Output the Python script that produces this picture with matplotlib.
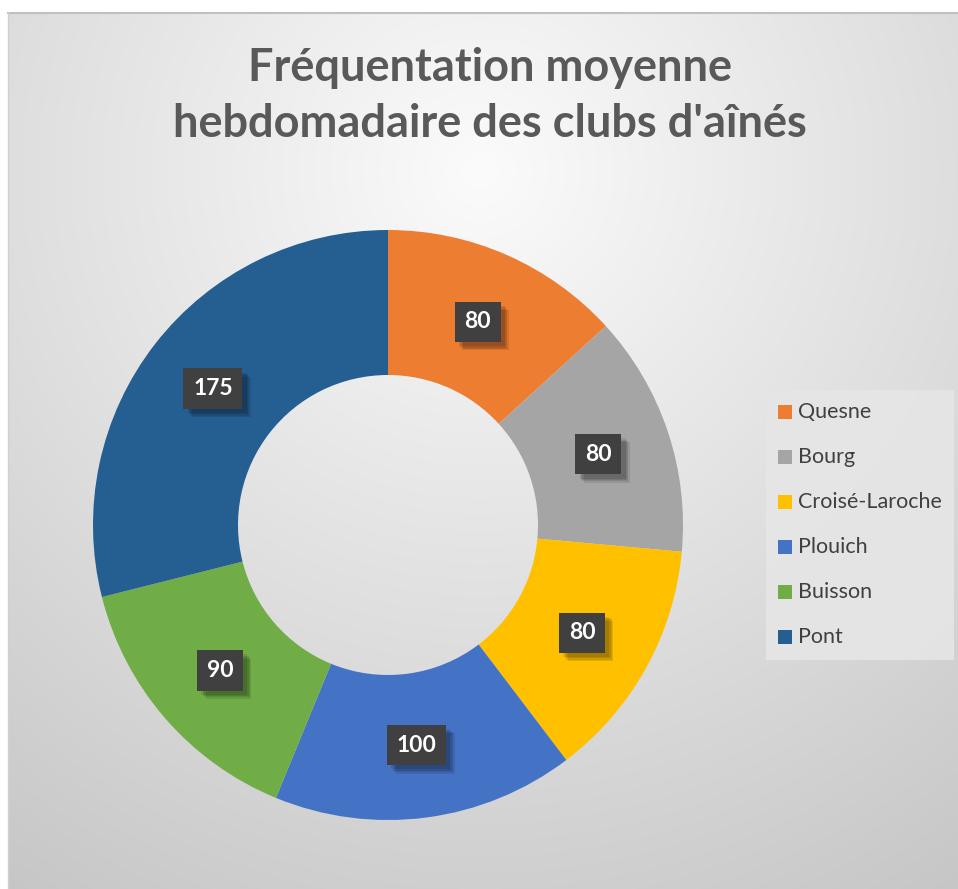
import numpy as np
import matplotlib
matplotlib.use("Agg")
import matplotlib.pyplot as plt
from matplotlib.patches import Rectangle
import matplotlib.patheffects as pe

categories = ["Quesne", "Bourg", "Croisé-Laroche", "Plouich", "Buisson", "Pont"]
values = [80, 80, 80, 100, 90, 175]
colors = ["#ED7D31", "#A5A5A5", "#FFC000", "#4472C4", "#70AD47", "#255E91"]
title = "Fréquentation moyenne\nhebdomadaire des clubs d'aînés"

plt.rcParams['font.family'] = ['Lato', 'DejaVu Sans']

W, H = 958, 889
fig = plt.figure(figsize=(W/100, H/100), dpi=100)
fig.patch.set_facecolor("white")

# background gradient panel
bg = fig.add_axes([8/W, 0, (W-8)/W, (H-13)/H])
bg.set_axis_off()
yy, xx = np.mgrid[13:H, 8:W]
d = np.hypot(xx - 480, (yy - 170) * 1.0)
val = 0.985 - 0.205 * np.clip(d / 850, 0, 1)
img = np.dstack([val, val, val])
bg.imshow(img, aspect='auto', extent=[0, 1, 0, 1], interpolation='bilinear')
bg.set_xlim(0, 1); bg.set_ylim(0, 1)
bg.plot([0, 1], [1, 1], color="#c0c0c0", lw=1.5, transform=bg.transAxes, clip_on=False)
bg.plot([0, 0], [0, 1], color="#d0d0d0", lw=1.0, transform=bg.transAxes, clip_on=False)

# title
fig.text(490/W, 1 - 96/H, title, ha='center', va='center', fontsize=32.5,
         fontweight='bold', color="#595959", linespacing=1.42)

# donut
cx, cy, R = 388, 525, 295
ax = fig.add_axes([(cx-R)/W, (H-cy-R)/H, 2*R/W, 2*R/H])
ax.set_axis_off()
wedges, _ = ax.pie(values, colors=colors, startangle=90, counterclock=False,
                   radius=1, wedgeprops=dict(width=145/295, edgecolor='none', linewidth=0))
ax.set_xlim(-1, 1); ax.set_ylim(-1, 1)
ax.set_aspect('equal')

total = sum(values)
cum = 0
rmid = 222 / 295
shadow = [pe.SimplePatchShadow(offset=(o, -o), shadow_rgbFace='black', alpha=0.10)
          for o in (6, 5, 4, 3)]
for v in values:
    mid = (cum + v / 2) / total * 2 * np.pi
    cum += v
    x = rmid * np.sin(mid)
    y = rmid * np.cos(mid)
    t = ax.text(x, y, str(v), ha='center', va='center', fontsize=16.5, fontweight='bold',
                color='white',
                bbox=dict(boxstyle='square,pad=0.42', facecolor='#404040', edgecolor='none'))
    t.get_bbox_patch().set_path_effects(shadow + [pe.Normal()])

# legend box
lx0, ly0, lx1, ly1 = 766, 390, 954, 660
fig.patches.append(Rectangle((lx0/W, 1 - ly1/H), (lx1-lx0)/W, (ly1-ly0)/H,
                             transform=fig.transFigure, facecolor="#e6e6e6",
                             edgecolor='none', alpha=0.9, zorder=1))
for i, (c, col) in enumerate(zip(categories, colors)):
    yc = 412 + 45 * i
    fig.patches.append(Rectangle((778/W, 1 - (yc + 7)/H), 14/W, 14/H,
                                 transform=fig.transFigure, facecolor=col,
                                 edgecolor='none', zorder=2))
    fig.text(798/W, 1 - yc/H, c, ha='left', va='center', fontsize=15.5,
             color="#404040", zorder=3)

fig.savefig("out.png", dpi=100, facecolor=fig.get_facecolor())
